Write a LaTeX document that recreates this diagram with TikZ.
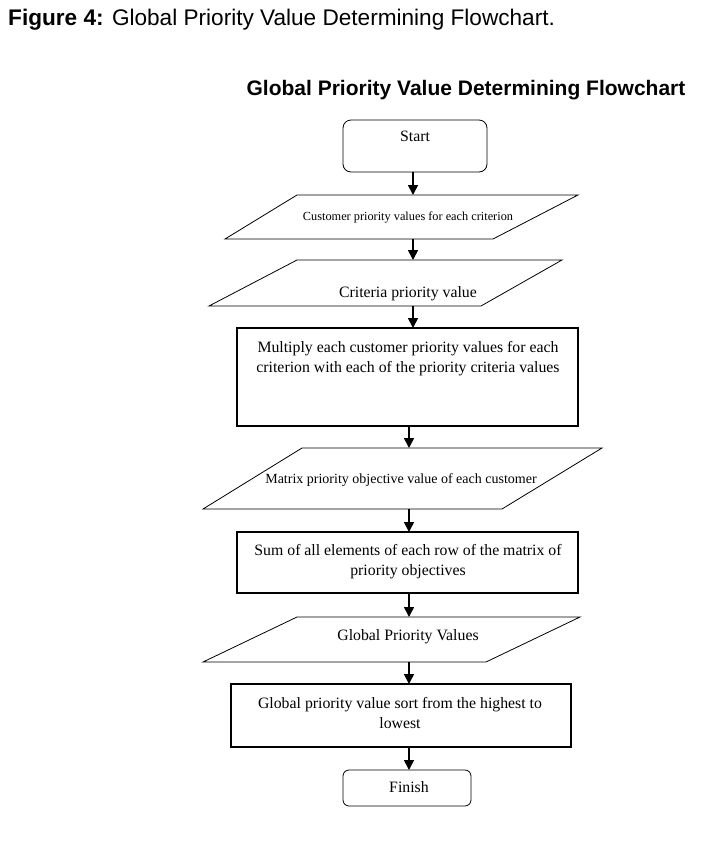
\documentclass[tikz,border=0pt]{standalone}
\usepackage{fontspec}
\setmainfont{Liberation Serif}
\newfontfamily\arialf{Liberation Sans}
\usetikzlibrary{arrows.meta}
\begin{document}
\begin{tikzpicture}[x=1pt,y=-1pt,
  shapeline/.style={draw=black,line width=0.8pt},
  boxline/.style={draw=black,line width=1.8pt},
  flowarrow/.style={draw=black,line width=1.6pt,-{Triangle[length=10pt,width=10pt]}},
  txt/.style={inner sep=0pt,anchor=base,font=\fontsize{15.8}{19}\selectfont},
]
\useasboundingbox (0,0) rectangle (727,847);
% titles
\node[inner sep=0pt,anchor=base west,font=\arialf\fontsize{22.6}{26}\selectfont] (fig) at (8,25) {\textbf{Figure 4:} Global Priority Value Determining Flowchart.};
\node[inner sep=0pt,anchor=base,font=\arialf\bfseries\fontsize{21}{24}\selectfont] (ttl) at (466,95) {Global Priority Value Determining Flowchart};

% Start
\draw[shapeline,rounded corners=8pt] (343,120) rectangle (487,172);
\node[txt] (start) at (415,141) {Start};
\coordinate (startB) at (413,172);

% Para 1
\draw[shapeline] (297,195) -- (578,195) -- (493,239) -- (225,239) -- cycle;
\node[txt,font=\fontsize{12.3}{15}\selectfont] (p1) at (408,220) {Customer priority values for each criterion};
\coordinate (p1T) at (413,195);
\coordinate (p1B) at (413,239);

% Para 2
\draw[shapeline] (297,260) -- (562,260) -- (481,306) -- (209,306) -- cycle;
\node[txt] (p2) at (408,297) {Criteria priority value};
\coordinate (p2T) at (413,260);
\coordinate (p2B) at (413,306);

% Rect 1
\draw[boxline] (237,328) rectangle (578,426);
\node[txt] (r1a) at (408,352) {Multiply each customer priority values for each};
\node[txt] (r1b) at (408,372) {criterion with each of the priority criteria values};
\coordinate (r1T) at (413,328);
\coordinate (r1B) at (409,426);

% Para 3
\draw[shapeline] (302,448) -- (602,448) -- (502,509) -- (203,509) -- cycle;
\node[txt,font=\fontsize{14}{17}\selectfont] (p3) at (401,483) {Matrix priority objective value of each customer};
\coordinate (p3T) at (409,448);
\coordinate (p3B) at (409,509);

% Rect 2
\draw[boxline] (237,532) rectangle (578,593);
\node[txt] (r2a) at (408,555) {Sum of all elements of each row of the matrix of};
\node[txt] (r2b) at (408,575) {priority objectives};
\coordinate (r2T) at (409,532);
\coordinate (r2B) at (409,593);

% Para 4
\draw[shapeline] (297,617) -- (580,617) -- (486,662) -- (203,662) -- cycle;
\node[txt] (p4) at (408,640) {Global Priority Values};
\coordinate (p4T) at (409,617);
\coordinate (p4B) at (409,662);

% Rect 3
\draw[boxline] (231,684) rectangle (571,747);
\node[txt] (r3a) at (400,708) {Global priority value sort from the highest to};
\node[txt] (r3b) at (400,728) {lowest};
\coordinate (r3T) at (409,684);
\coordinate (r3B) at (409,747);

% Finish
\draw[shapeline,rounded corners=6pt] (343,770) rectangle (471,806);
\node[txt] (fin) at (409,792) {Finish};
\coordinate (finT) at (409,770);

% arrows
\draw[flowarrow] (startB) -- (p1T);
\draw[flowarrow] (p1B) -- (p2T);
\draw[flowarrow] (p2B) -- (r1T);
\draw[flowarrow] (r1B) -- (p3T);
\draw[flowarrow] (p3B) -- (r2T);
\draw[flowarrow] (r2B) -- (p4T);
\draw[flowarrow] (p4B) -- (r3T);
\draw[flowarrow] (r3B) -- (finT);
\end{tikzpicture}
\end{document}
